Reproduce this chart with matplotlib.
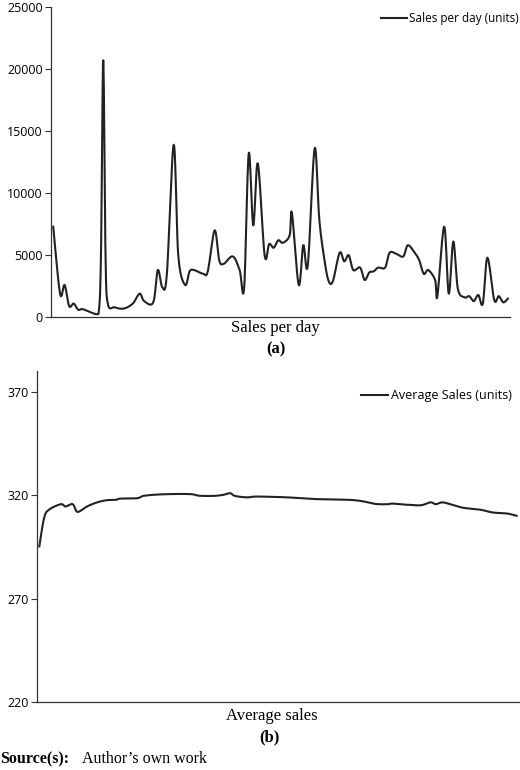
import numpy as np
import matplotlib
matplotlib.use("Agg")
import matplotlib.pyplot as plt

# panel (a): daily sales
sales_days = [0, 3, 5, 7, 9, 11, 13, 18, 20, 21, 22, 23, 24, 27, 31, 35, 38, 40, 44, 46, 48, 50,
              53, 55, 58, 60, 62, 66, 68, 71, 73, 75, 79, 82, 84, 86, 88, 90, 93, 95, 97, 99,
              101, 104, 105, 108, 110, 112, 115, 117, 119, 121, 123, 126, 128, 130, 132, 135,
              137, 139, 141, 143, 146, 148, 151, 154, 156, 159, 161, 163, 165, 168, 169, 172,
              174, 176, 178, 181, 183, 185, 187, 189, 191, 194, 196, 198, 200]
sales_units = [7300, 1900, 2600, 900, 1100, 600, 650, 300, 400, 5000, 20700, 5000, 1100, 800,
               700, 1100, 1900, 1300, 1200, 3800, 2400, 3500, 13900, 5000, 2600, 3700, 3800,
               3500, 3700, 7000, 4600, 4300, 4900, 3800, 2400, 13200, 7400, 12400, 5000, 5900,
               5600, 6200, 6000, 6600, 8400, 2600, 5800, 4200, 13600, 8000, 5000, 3000, 2900,
               5200, 4500, 5000, 3800, 4000, 3000, 3600, 3700, 4000, 4000, 5200, 5100, 4900,
               5800, 5200, 4600, 3500, 3800, 3000, 1700, 7300, 1900, 6100, 2300, 1600, 1700,
               1300, 1800, 1100, 4800, 1400, 1700, 1200, 1500]

# panel (b): running average
avg_days = [0, 2, 4, 9, 11, 14, 16, 20, 24, 28, 32, 34, 41, 44, 52, 63, 67, 73, 77, 80, 82, 87,
            91, 104, 115, 130, 136, 141, 146, 148, 153, 155, 160, 164, 166, 169, 173, 178, 185,
            190, 196, 200]
avg_units = [295.3, 309, 313, 315.7, 314.6, 315.7, 312, 314.6, 316.5, 317.6, 317.8, 318.4,
             318.6, 319.8, 320.5, 320.6, 319.8, 319.7, 320.2, 321, 319.7, 319, 319.4, 319,
             318.2, 317.8, 317, 315.8, 315.7, 316, 315.5, 315.4, 315.2, 316.6, 315.7, 316.6,
             315.4, 313.9, 313, 311.7, 311.2, 310.1]

LINE = "#222222"
TICK_FONT = "Open Sans"
SERIF = "Liberation Serif"


def smooth(xs, ys, steps=12, floor=None):
    # Catmull-Rom curve through the points, like Excel's smoothed line
    x = np.asarray(xs, float)
    y = np.asarray(ys, float)
    px = np.concatenate([[x[0]], x, [x[-1]]])
    py = np.concatenate([[y[0]], y, [y[-1]]])
    out_x, out_y = [], []
    t = np.linspace(0, 1, steps, endpoint=False)
    for i in range(1, len(px) - 2):
        for arr, out in ((px, out_x), (py, out_y)):
            p0, p1, p2, p3 = arr[i - 1:i + 3]
            out.extend(0.5 * (2 * p1 + (-p0 + p2) * t + (2 * p0 - 5 * p1 + 4 * p2 - p3) * t ** 2
                              + (-p0 + 3 * p1 - 3 * p2 + p3) * t ** 3))
    out_x.append(x[-1])
    out_y.append(y[-1])
    if floor is not None:
        out_y = np.maximum(out_y, floor)
    return out_x, out_y


def style(ax):
    for side in ("top", "right"):
        ax.spines[side].set_visible(False)
    for side in ("left", "bottom"):
        ax.spines[side].set_color("#333333")
        ax.spines[side].set_linewidth(0.9)
    ax.set_xticks([])
    ax.tick_params(axis="y", length=4, width=0.8, color="#333333", labelsize=9, pad=2)
    for lab in ax.get_yticklabels():
        lab.set_fontfamily(TICK_FONT)


fig = plt.figure(figsize=(5.2, 7.7), dpi=100)

ax1 = fig.add_axes([0.098, 0.588, 0.883, 0.403])
ax1.plot(*smooth(sales_days, sales_units, floor=250), color=LINE, lw=1.5,
         label="Sales per day (units)")
ax1.set_xlim(-1, 201)
ax1.set_ylim(0, 25000)
ax1.set_yticks([0, 5000, 10000, 15000, 20000, 25000])
style(ax1)
ax1.legend(loc="upper right", frameon=False, handlelength=2.2, handletextpad=0.2,
           borderaxespad=0.0, prop={"family": TICK_FONT, "size": 8.5},
           bbox_to_anchor=(1.03, 1.0))

ax2 = fig.add_axes([0.071, 0.088, 0.927, 0.43])
ax2.plot(*smooth(avg_days, avg_units), color=LINE, lw=1.5, label="Average Sales (units)")
ax2.set_xlim(-1, 201)
ax2.set_ylim(220, 380)
ax2.set_yticks([220, 270, 320, 370])
style(ax2)
ax2.legend(loc="upper right", frameon=False, handlelength=2.2, handletextpad=0.2,
           borderaxespad=0.0, prop={"family": TICK_FONT, "size": 9},
           bbox_to_anchor=(0.995, 0.96))

fig.text(0.53, 1 - 328 / 770, "Sales per day", ha="center", va="center", family=SERIF, fontsize=12)
fig.text(0.53, 1 - 349 / 770, "(a)", ha="center", va="center", family=SERIF, fontsize=12,
         weight="bold")
fig.text(0.523, 1 - 716 / 770, "Average sales", ha="center", va="center", family=SERIF,
         fontsize=12)
fig.text(0.518, 1 - 737 / 770, "(b)", ha="center", va="center", family=SERIF, fontsize=12,
         weight="bold")
src = fig.text(0.0, 1 - 759 / 770, "Source(s):", ha="left", va="center", family=SERIF,
               fontsize=11.5, weight="bold")
fig.text(0.158, 1 - 759 / 770, "Author’s own work", ha="left", va="center", family=SERIF,
         fontsize=11.5)

fig.savefig("out.png", dpi=100)
